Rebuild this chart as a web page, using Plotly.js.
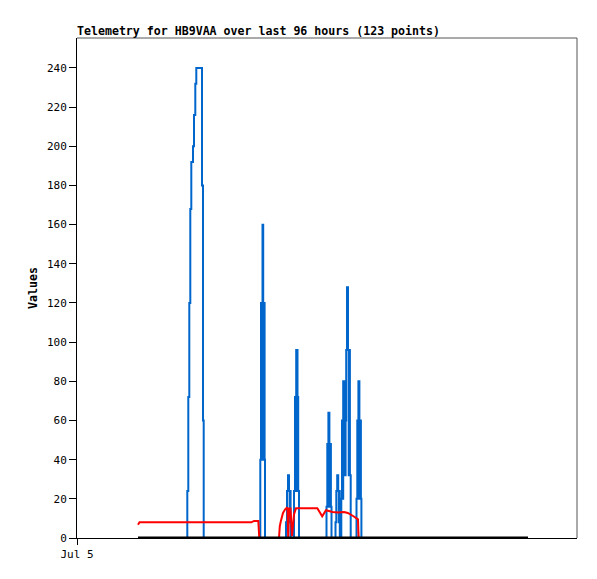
<!DOCTYPE html>
<html>
<head>
<meta charset="utf-8">
<script src="https://cdn.plot.ly/plotly-3.0.1.min.js"></script>
<style>html,body{margin:0;padding:0;background:#fff;}#chart{width:597px;height:579px;}</style>
</head>
<body>
<div id="chart"></div>
<script>
// Hours since Jul 5 00:00
const xTickVals = [0];
const xTickLabels = ['Jul 5'];
const yTickVals = [0, 20, 40, 60, 80, 100, 120, 140, 160, 180, 200, 220, 240];

const blueTimes = [3.05, 5.515, 5.565, 5.615, 5.665, 5.715, 5.80, 5.85, 5.915, 5.965, 6.25, 6.30, 6.335,
  9.165, 9.2, 9.225, 9.25, 9.275, 9.31, 9.335, 9.36, 9.38, 9.4,
  10.45, 10.5, 10.55, 10.6, 10.63, 10.65, 10.68,
  10.85, 10.9, 10.93, 10.96, 11.025, 11.06, 11.1,
  12.475, 12.515, 12.545, 12.57, 12.62, 12.65, 12.675, 12.695, 12.725,
  12.925, 12.965, 13.01, 13.06, 13.09, 13.115, 13.14,
  13.215, 13.25, 13.28, 13.31, 13.365, 13.4, 13.43, 13.46, 13.5, 13.55, 13.585, 13.615, 13.645, 13.685,
  13.975, 14.015, 14.045, 14.07, 14.12, 14.15, 14.175, 14.195, 14.22,
  22.55];
const blueValues = [0, 24, 72, 120, 168, 192, 200, 216, 232, 240, 180, 60, 0,
  40, 120, 40, 120, 160, 120, 40, 120, 40, 0,
  8, 24, 32, 24, 8, 24, 0,
  24, 72, 24, 96, 72, 24, 0,
  16, 48, 16, 64, 48, 16, 48, 16, 0,
  8, 24, 32, 24, 8, 24, 0,
  20, 60, 20, 80, 60, 32, 60, 96, 128, 96, 32, 96, 32, 0,
  20, 60, 20, 80, 60, 20, 60, 20, 0,
  0];

const redTimes = [3.05, 3.125, 8.72, 8.85, 9.065, 9.1, 9.115, 10.1, 10.14, 10.2, 10.25, 10.3, 10.4, 10.49,
  10.525, 10.56, 10.6, 10.675, 10.75, 10.85, 10.95, 12.015, 12.26, 12.45, 12.775, 13.05, 13.35, 13.54,
  13.825, 13.975, 14.05, 14.07, 14.085, 22.55];
const redValues = [6.8, 8, 8, 8.7, 8.7, 2.6, 0, 0, 6, 9, 11.5, 12.8, 14.5, 15.4,
  15.2, 0, 15, 15, 1, 12, 15.2, 15.2, 11.1, 14.2, 13.3, 13.0, 13.3, 12.8,
  11.1, 10.3, 9.5, 2.6, 0, 0];

const baseTimes = [3.05, 22.55];
const baseValues = [0, 0];

const mono = 'DejaVu Sans Mono, Liberation Mono, monospace';

const traces = [
  {x: blueTimes, y: blueValues, type: 'scatter', mode: 'lines',
   line: {color: '#0066CC', width: 2, shape: 'hv'}, hoverinfo: 'none'},
  {x: redTimes, y: redValues, type: 'scatter', mode: 'lines',
   line: {color: '#FF0000', width: 2}, hoverinfo: 'none'},
  {x: baseTimes, y: baseValues, type: 'scatter', mode: 'lines',
   line: {color: '#000000', width: 3}, hoverinfo: 'none'}
];

const layout = {
  width: 597, height: 579,
  margin: {l: 77, r: 20, t: 38, b: 41},
  paper_bgcolor: '#ffffff', plot_bgcolor: '#ffffff',
  showlegend: false,
  font: {family: mono, size: 11, color: '#000'},
  title: {text: '<b>Telemetry for HB9VAA over last 96 hours (123 points)</b>',
    font: {family: mono, size: 11.6, color: '#000'},
    xref: 'paper', x: 0, xanchor: 'left', yref: 'container', y: 1 - 31/579, yanchor: 'middle'},
  xaxis: {range: [0, 25], tickmode: 'array', tickvals: xTickVals, ticktext: xTickLabels,
    ticks: 'outside', ticklen: 6, tickcolor: '#000', showgrid: false, zeroline: false,
    showline: true, linecolor: '#000', linewidth: 1, mirror: false,
    tickfont: {family: mono, size: 11, color: '#000'}},
  yaxis: {range: [0, 255.3], tickmode: 'array', tickvals: yTickVals,
    ticks: 'outside', ticklen: 7, tickcolor: '#000', showgrid: false, zeroline: false,
    showline: true, linecolor: '#000', linewidth: 1, mirror: false,
    tickfont: {family: mono, size: 11, color: '#000'},
    title: {text: '<b>Values</b>', font: {family: mono, size: 11.6, color: '#000'}, standoff: 6}},
  shapes: [
    {type: 'line', xref: 'paper', yref: 'paper', x0: 0, x1: 1, y0: 1, y1: 1, line: {color: '#555', width: 1}},
    {type: 'line', xref: 'paper', yref: 'paper', x0: 1, x1: 1, y0: 0, y1: 1, line: {color: '#555', width: 1}}
  ]
};

Plotly.newPlot('chart', traces, layout, {staticPlot: true, displayModeBar: false});
</script>
</body>
</html>
